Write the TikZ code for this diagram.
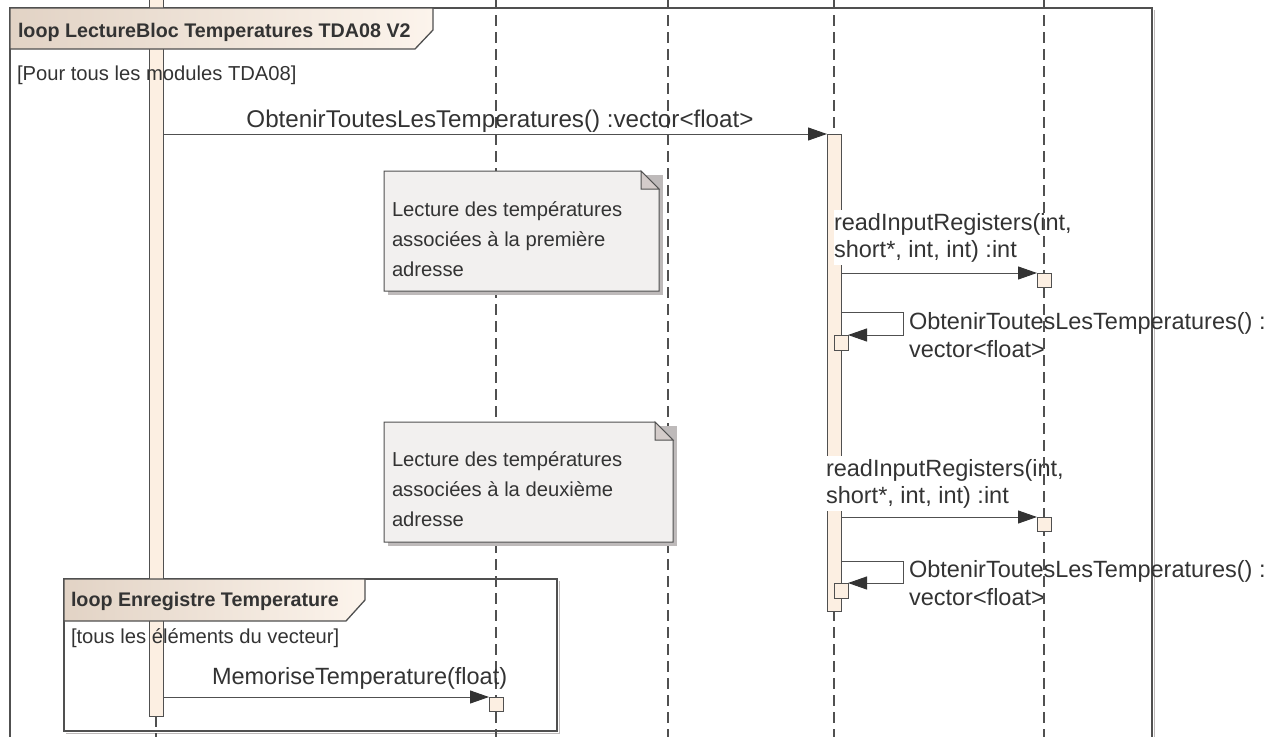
\documentclass[tikz,border=0pt]{standalone}
\usepackage{fontspec}
\setmainfont{Liberation Sans}
\usetikzlibrary{arrows.meta,calc}
\definecolor{ln}{RGB}{80,80,80}
\definecolor{txt}{RGB}{51,51,51}
\definecolor{barf}{RGB}{252,239,226}
\definecolor{tabl}{RGB}{226,211,197}
\definecolor{tabr}{RGB}{252,244,236}
\definecolor{notef}{RGB}{242,240,239}
\definecolor{foldf}{RGB}{212,204,202}
\definecolor{shad}{RGB}{190,186,186}
\newcommand\FMsg{\fontsize{23.5}{27.5}\selectfont}
\newcommand\FMsgB{\fontsize{24.2}{28}\selectfont}
\newcommand\FSmall{\fontsize{20.2}{30}\selectfont}
\newcommand\FTitle{\fontsize{19.7}{24}\selectfont\bfseries}
\begin{document}
\begin{tikzpicture}[x=1pt,y=-1pt,
  frm/.style={draw=ln, line width=1.6pt},
  shd/.style={draw=shad, line width=1.4pt},
  tabshape/.style={left color=tabl, right color=tabr, draw=ln, line width=1.3pt},
  lifeline/.style={draw=ln, line width=1.1pt, dash pattern=on 11pt off 6pt},
  bar/.style={draw=ln, fill=barf, line width=1pt, inner sep=0pt, outer sep=0pt, anchor=north west},
  notebox/.style={draw=ln, fill=notef, line width=1pt},
  fold/.style={draw=ln, fill=foldf, line width=1pt},
  msg/.style={draw=ln, line width=1pt, -{Triangle[length=19pt,width=13pt,fill=txt,color=txt]}},
  lbl/.style={inner sep=0pt, outer sep=0pt, text=txt, anchor=base west},
  wlbl/.style={lbl, fill=white, inner ysep=3pt}]
\useasboundingbox (0,0) rectangle (1276,736);

% ---- outer combined fragment ----
\draw[shd] (1154.5,10) -- (1154.5,740);
\draw[frm] (10,740) -- (10,8) -- (1152,8) -- (1152,740);

% ---- inner combined fragment ----
\draw[shd] (66,733.5) -- (559.5,733.5) -- (559.5,581);
\draw[frm] (64,579) rectangle (557,731);

% ---- lifelines ----
\draw[lifeline] (156,716) -- (156,740);
\draw[lifeline] (496,-2) -- (496,740);
\draw[lifeline] (668,-2) -- (668,740);
\draw[lifeline] (834,-2) -- (834,740);

% ---- notes ----
\fill[shad] (388,175) rectangle (663,295);
\draw[notebox] (384,171) -- (641,171) -- (659,189) -- (659,291) -- (384,291) -- cycle;
\draw[fold] (641,171) -- (659,189) -- (641,189) -- cycle;
\node[lbl, font=\FSmall] (note1) at (392,216) {\vtop{\baselineskip=30pt\hbox{Lecture des températures}\hbox{associées à la première}\hbox{adresse}}};

\fill[shad] (388,426) rectangle (677,546);
\draw[notebox] (384,422) -- (655,422) -- (673,440) -- (673,542) -- (384,542) -- cycle;
\draw[fold] (655,422) -- (673,440) -- (655,440) -- cycle;
\node[lbl, font=\FSmall] (note2) at (392,466) {\vtop{\baselineskip=30pt\hbox{Lecture des températures}\hbox{associées à la deuxième}\hbox{adresse}}};

% ---- activation bars ----
\node[bar, minimum width=14pt, minimum height=720pt] (bar1) at (149,-4) {};
\node[bar, minimum width=14pt, minimum height=477pt] (bar4) at (827,134) {};

% ---- guards (over the bar) ----
\node[lbl, font=\FSmall] (guard1) at (17,80) {[Pour tous les modules TDA08]};
\node[lbl, font=\FSmall] (guard2) at (71,643) {[tous les éléments du vecteur]};

% ---- fragment tabs (over the bar) ----
\path[tabshape] (10,8) -- (433,8) -- (433,30) -- (415,49) -- (10,49) -- cycle;
\node[lbl, font=\FTitle] (title1) at (18,37) {loop LectureBloc Temperatures TDA08 V2};
\path[tabshape] (64,579) -- (365,579) -- (365,600) -- (346,621) -- (64,621) -- cycle;
\node[lbl, font=\FTitle] (title2) at (71,606) {loop Enregistre Temperature};

% ---- message labels ----
\node[lbl, font=\FMsgB, anchor=base] (m1lbl) at (500,127) {ObtenirToutesLesTemperatures() :vector<float>};
\node[wlbl, font=\FMsg] (r1lbl) at (834,230) {\vtop{\baselineskip=27pt\hbox{readInputRegisters(int,}\hbox{short*, int, int) :int}}};
\node[lbl, font=\FMsg] (s1lbl) at (909,329) {\vtop{\baselineskip=28pt\hbox{ObtenirToutesLesTemperatures() :}\hbox{vector<float>}}};
\node[wlbl, font=\FMsg] (r2lbl) at (826,476) {\vtop{\baselineskip=27pt\hbox{readInputRegisters(int,}\hbox{short*, int, int) :int}}};
\node[lbl, font=\FMsg] (s2lbl) at (909,577) {\vtop{\baselineskip=28pt\hbox{ObtenirToutesLesTemperatures() :}\hbox{vector<float>}}};
\node[lbl, font=\FMsg] (memlbl) at (212,684) {MemoriseTemperature(float)};

% ---- lifeline of the last participant (over the labels) ----
\draw[lifeline] (1044,-2) -- (1044,740);

% ---- execution occurrence boxes ----
\node[bar, minimum width=14pt, minimum height=14pt] (rir1) at (1037,273) {};
\node[bar, minimum width=14pt, minimum height=15pt] (self1) at (834,335) {};
\node[bar, minimum width=14pt, minimum height=14pt] (rir2) at (1037,517) {};
\node[bar, minimum width=14pt, minimum height=15pt] (self2) at (834,583) {};
\node[bar, minimum width=14pt, minimum height=14pt] (mem) at (489,697) {};

% ---- messages ----
\coordinate (s1start) at (841,312);
\coordinate (s2start) at (841,561);
\draw[msg] (bar1.east |- bar4.north west) -- (bar4.north west);
\draw[msg] (bar4.east |- rir1.north west) -- (rir1.north west);
\draw[msg] (s1start) -- ++(62,0) |- (self1.north east);
\draw[msg] (bar4.east |- rir2.north west) -- (rir2.north west);
\draw[msg] (s2start) -- ++(62,0) |- (self2.north east);
\draw[msg] (bar1.east |- mem.north west) -- (mem.north west);
\end{tikzpicture}
\end{document}
